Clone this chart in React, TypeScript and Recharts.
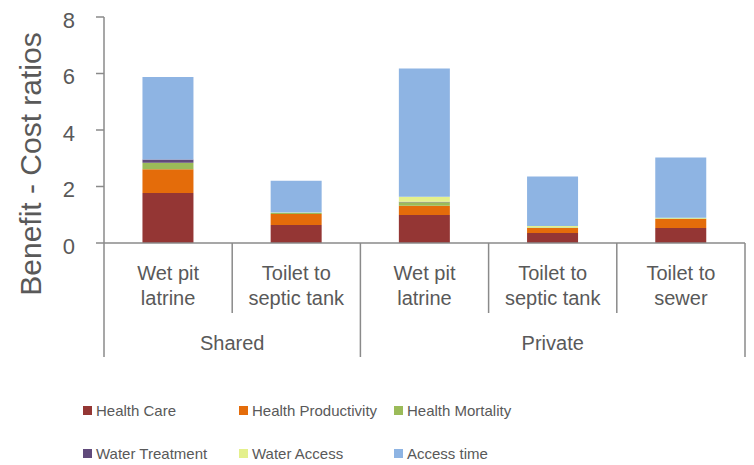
import React from 'react';
import { BarChart, Bar, XAxis, YAxis } from 'recharts';

// ---- Data ----
const categoryLine1 = ['Wet pit', 'Toilet to', 'Wet pit', 'Toilet to', 'Toilet to'];
const categoryLine2 = ['latrine', 'septic tank', 'latrine', 'septic tank', 'sewer'];
const groups = ['Shared', 'Shared', 'Private', 'Private', 'Private'];

const healthCare = [1.77, 0.64, 0.99, 0.35, 0.53];
const healthProductivity = [0.84, 0.39, 0.33, 0.18, 0.32];
const healthMortality = [0.23, 0.03, 0.12, 0.02, 0.02];
const waterTreatment = [0.12, 0.0, 0.02, 0.0, 0.0];
const waterAccess = [0.0, 0.02, 0.18, 0.05, 0.02];
const accessTime = [2.92, 1.12, 4.54, 1.75, 2.14];

const yTicks = [0, 2, 4, 6, 8];

const seriesNames = ['Health Care', 'Health Productivity', 'Health Mortality', 'Water Treatment', 'Water Access', 'Access time'];
const seriesKeys = ['hc', 'hp', 'hm', 'wt', 'wa', 'at'];
const seriesColors = ['#943634', '#E46C0A', '#9BBB59', '#604A7B', '#E4F08C', '#8EB4E3'];
const seriesValues = [healthCare, healthProductivity, healthMortality, waterTreatment, waterAccess, accessTime];

const data = categoryLine1.map((_, i) => {
  const row: any = { name: `${groups[i]} ${categoryLine1[i]} ${categoryLine2[i]}`, idx: i };
  seriesKeys.forEach((k, s) => {
    row[k] = seriesValues[s][i];
  });
  return row;
});

// ---- Layout ----
const W = 754;
const H = 465;
const MARGIN = { top: 17, right: 9, left: 0, bottom: 0 };
const Y_AXIS_W = 104;
const X_AXIS_H = 222;
const PLOT_W = W - MARGIN.left - MARGIN.right - Y_AXIS_W;
const FONT = '"Liberation Sans", Arial, sans-serif';
const TEXT = '#595959';
const LINE = '#8a8a8a';

const XTick = (props: any) => {
  const { x, y, payload } = props;
  const i: number = payload?.index ?? props.index ?? 0;
  const n = categoryLine1.length;
  const step = PLOT_W / n;
  const left = x - step / 2;
  const right = x + step / 2;
  const groupEnd = i === n - 1 || groups[i + 1] !== groups[i];
  const groupStart = i === 0 || groups[i - 1] !== groups[i];
  let groupLabel = null;
  if (groupStart) {
    let count = 0;
    for (let j = i; j < n && groups[j] === groups[i]; j++) count++;
    const cx = left + (count * step) / 2;
    groupLabel = (
      <text x={cx} y={y + 107} textAnchor="middle" fill={TEXT} fontSize={20} fontFamily={FONT}>
        {groups[i]}
      </text>
    );
  }
  return (
    <g>
      {i === 0 && <line x1={left} x2={left} y1={y} y2={y + 114} stroke={LINE} strokeWidth={1.5} />}
      <line x1={right} x2={right} y1={y} y2={y + (groupEnd ? 114 : 70)} stroke={LINE} strokeWidth={1.5} />
      <text x={x} y={y + 37} textAnchor="middle" fill={TEXT} fontSize={20} fontFamily={FONT}>
        {categoryLine1[i]}
      </text>
      <text x={x} y={y + 62} textAnchor="middle" fill={TEXT} fontSize={20} fontFamily={FONT}>
        {categoryLine2[i]}
      </text>
      {groupLabel}
    </g>
  );
};

const YLabel = () => (
  <text
    x={30}
    y={164}
    transform="rotate(-90 30 164)"
    textAnchor="middle"
    dominantBaseline="central"
    fill={TEXT}
    fontSize={30}
    fontFamily={FONT}
  >
    Benefit - Cost ratios
  </text>
);

const legendCols = [83, 239, 394];
const legendRows = [410, 453];

export default function App() {
  return (
    <div style={{ position: 'absolute', left: 0, top: 0, width: W, height: H, background: '#fff' }}>
      <BarChart width={W} height={H} data={data} margin={MARGIN} barCategoryGap="30%">
        <XAxis
          dataKey="name"
          interval={0}
          height={X_AXIS_H}
          tickLine={false}
          tickSize={0}
          tickMargin={0}
          axisLine={{ stroke: LINE, strokeWidth: 1.5 }}
          tick={<XTick />}
        />
        <YAxis
          width={Y_AXIS_W}
          domain={[0, 8]}
          ticks={yTicks}
          interval={0}
          tickSize={8}
          tickMargin={21}
          axisLine={{ stroke: LINE, strokeWidth: 1.5 }}
          tickLine={{ stroke: LINE, strokeWidth: 1.5 }}
          tick={{ fill: TEXT, fontSize: 22, fontFamily: FONT, dy: 3 }}
          label={{ content: <YLabel /> }}
        />
        {seriesKeys.map((k, s) => (
          <Bar key={k} dataKey={k} name={seriesNames[s]} stackId="a" fill={seriesColors[s]} isAnimationActive={false} />
        ))}
      </BarChart>
      {seriesNames.map((nm, s) => {
        const col = s % 3;
        const row = Math.floor(s / 3);
        return (
          <div
            key={nm}
            style={{
              position: 'absolute',
              left: legendCols[col],
              top: legendRows[row] - 10,
              height: 20,
              display: 'flex',
              alignItems: 'center',
              fontFamily: FONT,
              fontSize: 15,
              color: TEXT,
              whiteSpace: 'nowrap',
            }}
          >
            <span style={{ display: 'inline-block', width: 9, height: 9, background: seriesColors[s], marginRight: 4 }} />
            <span>{nm}</span>
          </div>
        );
      })}
    </div>
  );
}
